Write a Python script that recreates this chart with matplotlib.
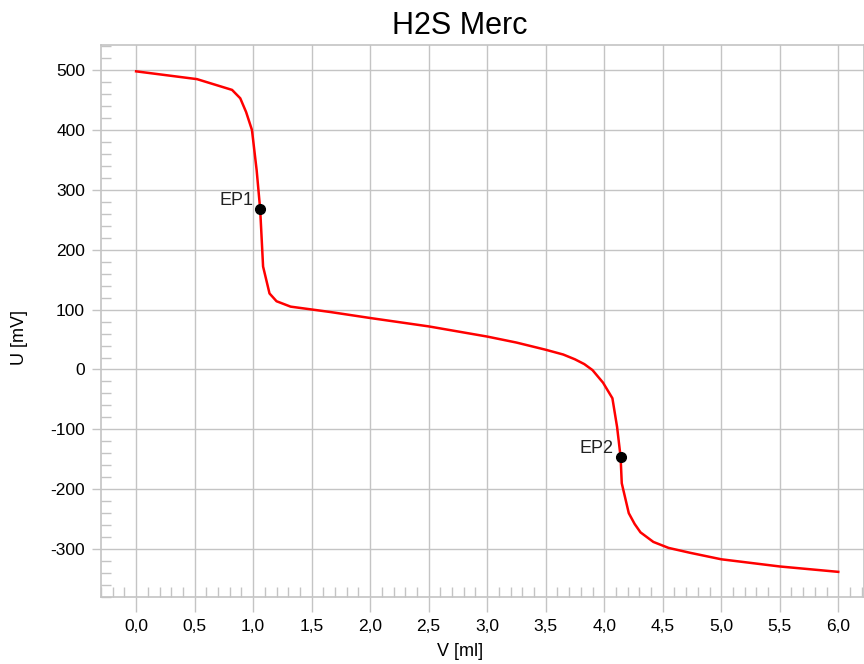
import matplotlib.pyplot as plt
from matplotlib.ticker import MultipleLocator, FuncFormatter

plt.rcParams['font.family'] = ['Liberation Sans', 'DejaVu Sans']

# titration curve (volume in ml, potential in mV)
volume = [0.0, 0.52, 0.82, 0.89, 0.94, 0.99, 1.03, 1.06, 1.085, 1.14, 1.20, 1.32,
          1.66, 2.0, 2.5, 3.0, 3.25, 3.5, 3.65, 3.75, 3.83, 3.9, 3.99, 4.07, 4.11, 4.14,
          4.15, 4.21, 4.26, 4.31, 4.42, 4.55, 4.73, 5.0, 5.5, 6.0]
potential = [498, 485, 467, 453, 430, 400, 333, 268, 172, 127, 114, 105,
             96, 86, 72, 55, 45, 33, 25, 17, 9, -1, -22, -48, -96, -146,
             -190, -240, -258, -272, -288, -298, -306, -317, -329, -338]

ep_labels = ['EP1', 'EP2']
ep_volume = [1.06, 4.14]
ep_potential = [268, -146]

grid_col = '#c4c4c4'

fig = plt.figure(figsize=(8.64, 6.64), dpi=100)
ax = fig.add_axes([101 / 864, 67 / 664, 1 - 101 / 864, 552 / 664])

ax.plot(volume, potential, color='#ff0000', lw=1.8, zorder=3)
ax.plot(ep_volume, ep_potential, 'o', color='black', ms=7, zorder=4)
for lab, vx, vy in zip(ep_labels, ep_volume, ep_potential):
    ax.annotate(lab, (vx, vy), xytext=(-5, 6), textcoords='offset points',
                ha='right', va='center', fontsize=13, color='#222222')

ax.set_xlim(-0.30, 6.22)
ax.set_ylim(-380, 542)

ax.xaxis.set_major_locator(MultipleLocator(0.5))
ax.xaxis.set_minor_locator(MultipleLocator(0.1))
ax.yaxis.set_major_locator(MultipleLocator(100))
ax.yaxis.set_minor_locator(MultipleLocator(20))
ax.xaxis.set_major_formatter(FuncFormatter(lambda v, p: f"{v:.1f}".replace('.', ',')))
ax.yaxis.set_major_formatter(FuncFormatter(lambda v, p: f"{int(round(v))}"))

ax.tick_params(axis='x', which='major', direction='out', length=11, width=1,
               color=grid_col, labelsize=12.5, pad=5)
ax.tick_params(axis='y', which='major', direction='out', length=6.5, width=1,
               color=grid_col, labelsize=12.5, pad=5)
ax.tick_params(axis='both', which='minor', direction='in', length=7, width=1,
               color=grid_col)

ax.grid(True, which='major', color=grid_col, lw=1)
for s in ax.spines.values():
    s.set_color(grid_col)
    s.set_linewidth(1.2)

ax.set_xlabel('V [ml]', fontsize=13)
ax.set_ylabel('U [mV]', fontsize=13)
ax.xaxis.set_label_coords((460 - 101) / (864 - 101), -0.083)
ax.yaxis.set_label_coords((28 - 101) / (864 - 101), 0.47)

fig.text(460 / 864, 1 - 26 / 664, 'H2S Merc', ha='center', va='center', fontsize=22)

fig.savefig('out.png', dpi=100)
